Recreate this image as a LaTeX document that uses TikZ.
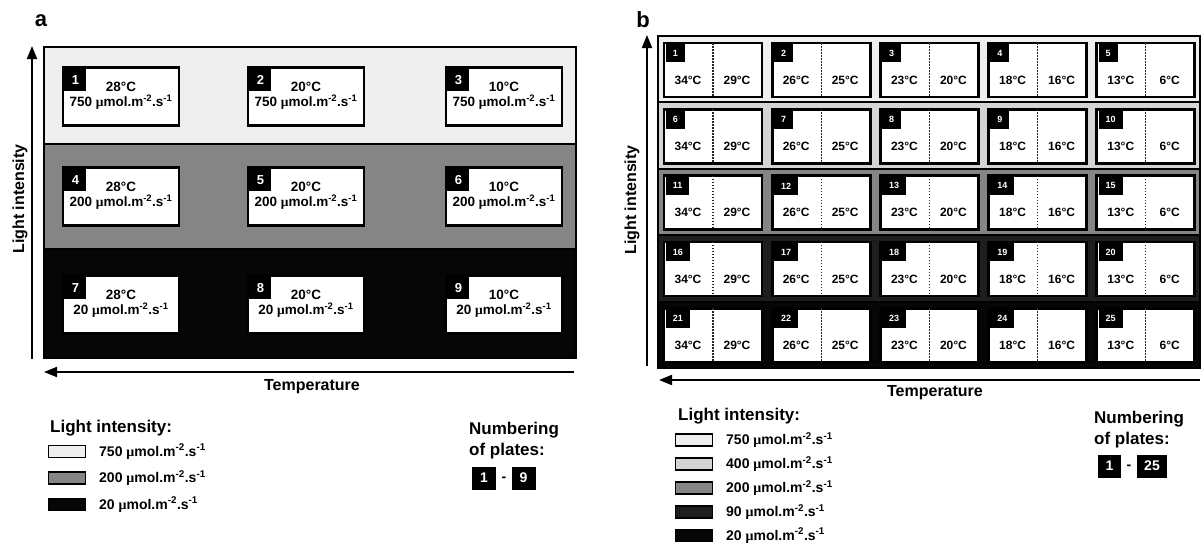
\documentclass[tikz,border=0pt]{standalone}
\usepackage{fontspec}
\setmainfont{Liberation Sans}
\newfontfamily\serifmu{Liberation Serif}
\usetikzlibrary{arrows.meta}
\definecolor{bandL}{HTML}{EFEFEF}
\definecolor{bandLM}{HTML}{D4D4D4}
\definecolor{bandM}{HTML}{858585}
\definecolor{bandD}{HTML}{1E1E1E}
\definecolor{bandK}{HTML}{060606}
\newcommand{\umolunit}{{\serifmu μ}mol.m\textsuperscript{-2}.s\textsuperscript{-1}}
\newcommand{\fs}[1]{\fontsize{#1}{#1}\selectfont}
\tikzset{
  bandbox/.style={draw=black, line width=2pt},
  plateA/.style={draw=black, fill=white, line width=2.5pt, minimum width=116pt, minimum height=58pt, inner sep=0pt},
  numA/.style={fill=black, text=white, font=\bfseries\fs{13}, minimum width=22pt, minimum height=23pt, inner sep=0pt},
  txtA/.style={font=\bfseries\fontsize{13.5}{15}\selectfont, align=center, inner sep=0pt},
  plateB/.style={draw=black, fill=white, line width=2.8pt, minimum width=98pt, minimum height=54pt, inner sep=0pt},
  numB/.style={fill=black, text=white, font=\bfseries\fs{9}, minimum width=19pt, minimum height=18pt, inner ysep=2pt, inner xsep=7pt},
  tempB/.style={font=\bfseries\fs{12}, inner sep=0pt},
  dotsep/.style={line width=1.3pt, black!85, dash pattern=on 1.4pt off 1.6pt},
  axarrow/.style={line width=2pt, -{Triangle[length=13pt,width=10pt]}},
  axlabel/.style={font=\bfseries\fs{16}, inner sep=0pt},
  panlabel/.style={font=\bfseries\fs{22}, inner sep=0pt},
  headtxt/.style={font=\bfseries\fs{17}, inner sep=0pt, anchor=west},
  swatch/.style={draw=black, line width=1.3pt, minimum width=37pt, minimum height=12pt, inner sep=0pt},
  legtext/.style={font=\bfseries\fs{14}, inner sep=0pt, anchor=west},
  numbox/.style={fill=black, text=white, font=\bfseries\fs{14}, minimum height=23pt, inner sep=0pt},
}
\begin{document}
\begin{tikzpicture}[x=1pt,y=-1pt]
\useasboundingbox (0,0) rectangle (1203,544);
% ---------------- panel a ----------------
\node[panlabel] (labA) at (41,21) {a};
\draw[bandbox, fill=bandL] (44,47) rectangle (576,144);
\draw[bandbox, fill=bandM] (44,144) rectangle (576,249);
\draw[bandbox, fill=bandK] (44,249) rectangle (576,358);
\foreach \r/\yy/\Iv in {1/96.5/750, 2/196.5/200, 3/304.5/20}{
  \foreach \c/\xx/\tc in {1/121/28, 2/306/20, 3/504/10}{
    \pgfmathtruncatemacro{\n}{(\r-1)*3+\c}
    \node[plateA] (pa\n) at (\xx,\yy) {};
    \node[numA, anchor=north west] (na\n) at ([xshift=2.5pt,yshift=-2pt]pa\n.north west) {\n};
    \node[txtA] (ta\n) at ([yshift=1pt]pa\n.center) {\tc°C\\\Iv\ \umolunit};
  }
}
\coordinate (va0) at (32,359);
\coordinate (va1) at (32,46);
\draw[axarrow] (va0) -- (va1);
\node[axlabel, rotate=90] (liA) at (20,199) {Light intensity};
\coordinate (ha0) at (574,372);
\coordinate (ha1) at (44,372);
\draw[axarrow] (ha0) -- (ha1);
\node[axlabel] (teA) at (312,387) {Temperature};
% legend a
\node[headtxt] (lgA) at (50,428) {Light intensity:};
\foreach \k/\yy/\col/\Iv in {1/451.5/bandL/750, 2/478/bandM/200, 3/504.5/bandK/20}{
  \node[swatch, fill=\col] (swA\k) at (67,\yy) {};
  \node[legtext] (ltA\k) at (99,\yy) {\Iv\ \umolunit};
}
\node[headtxt] (nbA1) at (469,430) {Numbering};
\node[headtxt] (nbA2) at (469,451) {of plates:};
\node[numbox, minimum width=24pt] (nfA) at (484,478) {1};
\node[font=\bfseries\fs{14}, inner sep=0pt] (dA) at (504,479) {-};
\node[numbox, minimum width=24pt] (nlA) at (523.5,478) {9};
% ---------------- panel b ----------------
\node[panlabel] (labB) at (643,20) {b};
\foreach \j/\col in {0/bandL, 1/bandLM, 2/bandM, 3/bandD, 4/bandK}{
  \pgfmathsetmacro{\ya}{36+66.4*\j}
  \pgfmathsetmacro{\yb}{36+66.4*(\j+1)}
  \draw[bandbox, fill=\col] (658,\ya) rectangle (1200,\yb);
}
\foreach \j in {0,...,4}{
  \foreach \i/\ta/\tb in {0/34/29, 1/26/25, 2/23/20, 3/18/16, 4/13/6}{
    \pgfmathsetmacro{\xx}{713+108.2*\i}
    \pgfmathsetmacro{\yy}{70+66.3*\j}
    \pgfmathtruncatemacro{\n}{\j*5+\i+1}
    \node[plateB] (pb\n) at (\xx,\yy) {};
    \draw[dotsep] ([yshift=-1.5pt]pb\n.north) -- ([yshift=1.5pt]pb\n.south);
    \node[numB, anchor=north west] (nb\n) at ([xshift=3pt,yshift=-2.5pt]pb\n.north west) {\n};
    \node[tempB] (tl\n) at ([xshift=-25pt,yshift=-10pt]pb\n.center) {\ta°C};
    \node[tempB] (tr\n) at ([xshift=24pt,yshift=-10pt]pb\n.center) {\tb°C};
  }
}
\coordinate (vb0) at (647,366);
\coordinate (vb1) at (647,35);
\draw[axarrow] (vb0) -- (vb1);
\node[axlabel, rotate=90] (liB) at (632,200) {Light intensity};
\coordinate (hb0) at (1200,380);
\coordinate (hb1) at (659,380);
\draw[axarrow] (hb0) -- (hb1);
\node[axlabel] (teB) at (935,393) {Temperature};
% legend b
\node[headtxt] (lgB) at (678,416) {Light intensity:};
\foreach \k/\yy/\col/\Iv in {1/440/bandL/750, 2/464/bandLM/400, 3/488/bandM/200, 4/512/bandD/90, 5/535.5/bandK/20}{
  \node[swatch, fill=\col] (swB\k) at (694,\yy) {};
  \node[legtext] (ltB\k) at (726,\yy) {\Iv\ \umolunit};
}
\node[headtxt] (nbB1) at (1094,419) {Numbering};
\node[headtxt] (nbB2) at (1094,440) {of plates:};
\node[numbox, minimum width=23pt] (nfB) at (1109.5,466) {1};
\node[font=\bfseries\fs{14}, inner sep=0pt] (dB) at (1129,467) {-};
\node[numbox, minimum width=30pt] (nlB) at (1152,466) {25};
\end{tikzpicture}
\end{document}
